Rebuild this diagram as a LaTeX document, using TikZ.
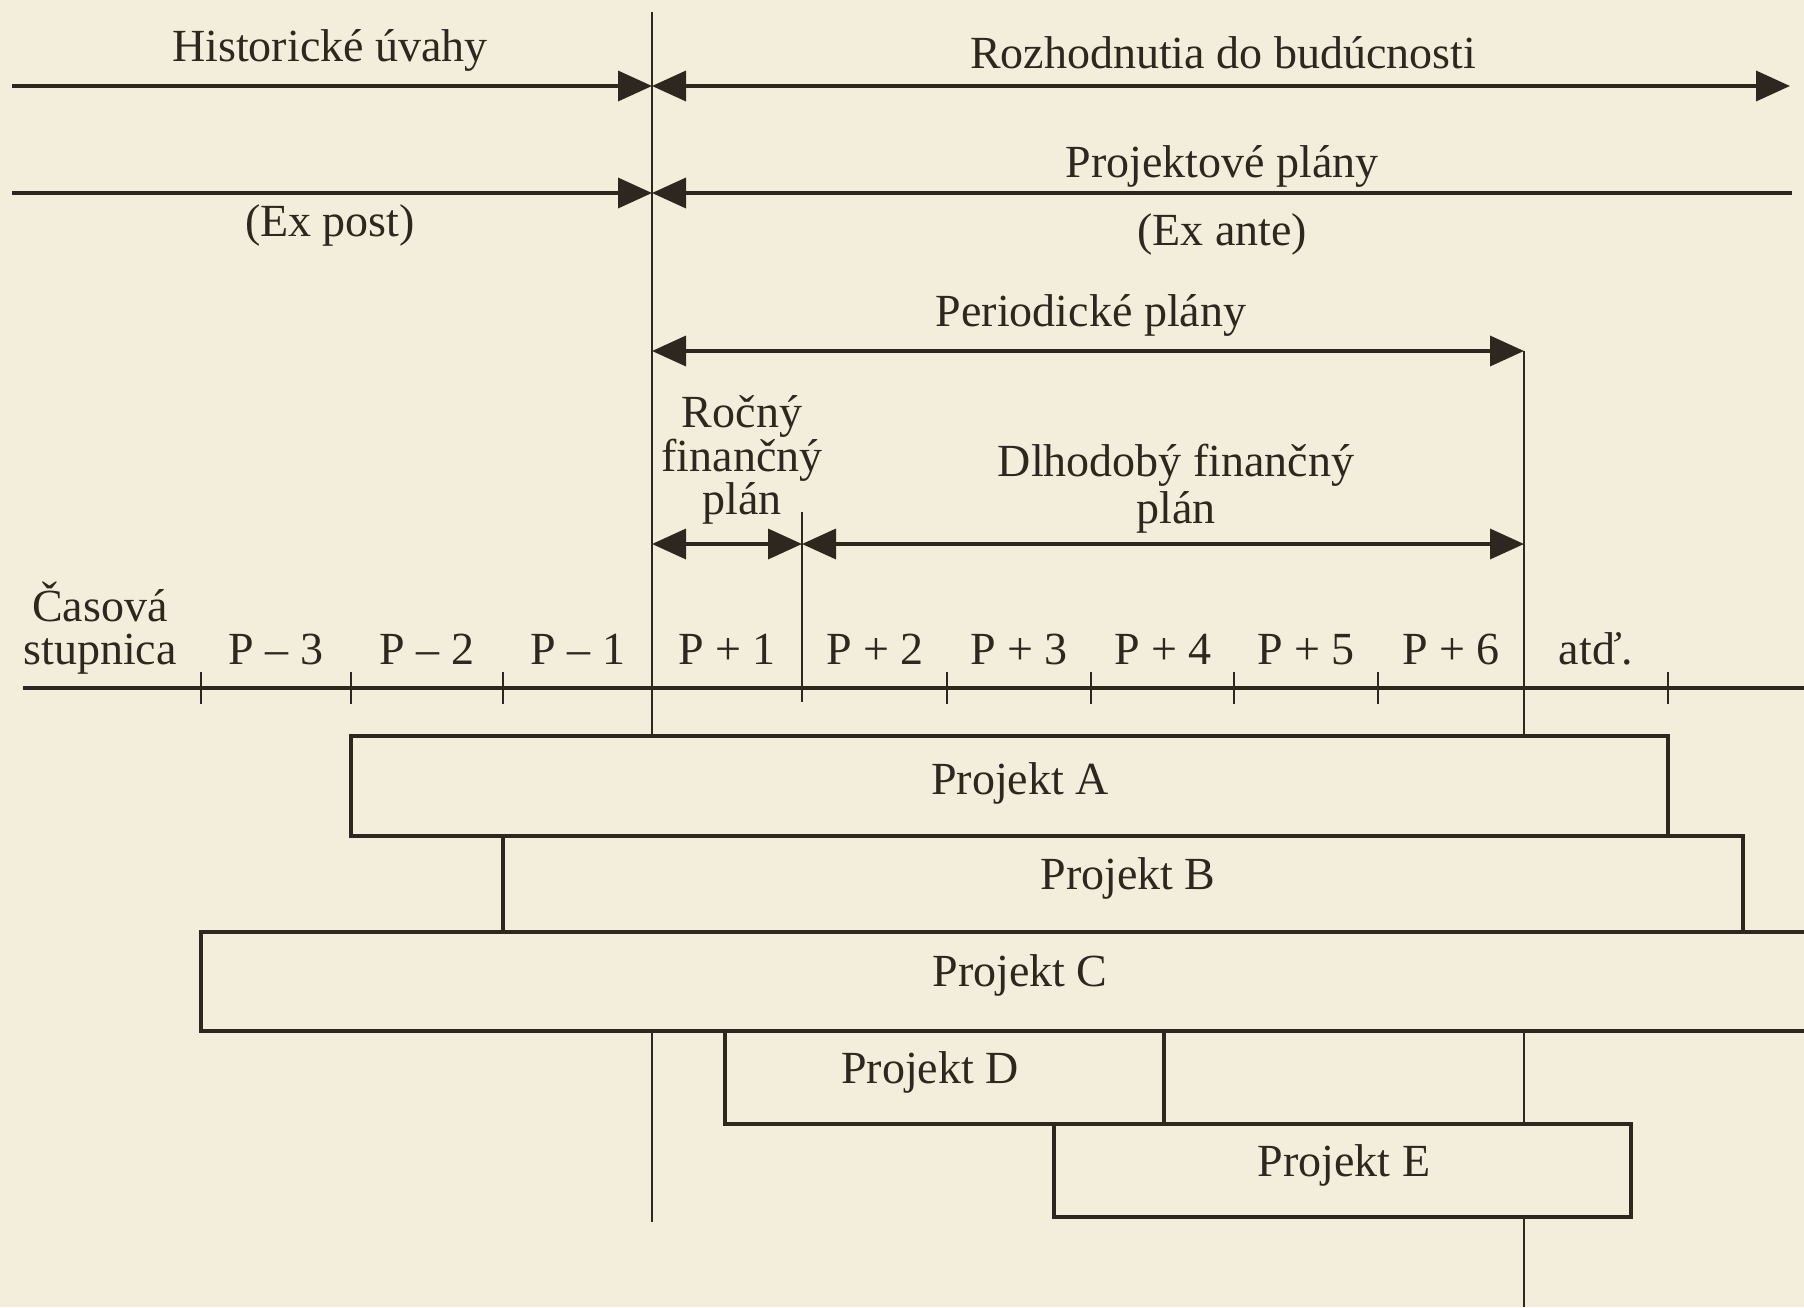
\documentclass[tikz,border=0pt]{standalone}
\usepackage{fontspec}
\setmainfont{Liberation Serif}
\usetikzlibrary{arrows.meta,fit}
\definecolor{paper}{HTML}{F3EDDB}
\definecolor{ink}{HTML}{2E271F}
\begin{document}
\begin{tikzpicture}[x=0.5pt,y=-0.5pt,
  every node/.style={text=ink, inner sep=0pt},
  txt/.style={font=\fontsize{23}{22}\selectfont, anchor=base},
  hl/.style={draw=ink, line width=1.8pt},
  vl/.style={draw=ink, line width=1pt},
  tk/.style={draw=ink, line width=0.9pt},
  arw/.style={-{Triangle[length=17pt,width=15pt]}},
  larw/.style={{Triangle[length=17pt,width=15pt]}-},
  darw/.style={{Triangle[length=17pt,width=15pt]}-{Triangle[length=17pt,width=15pt]}},
  proj/.style={draw=ink, fill=paper, line width=1.6pt, inner sep=0pt, rectangle},
]
\fill[paper] (0,0) rectangle (1804,1307);
\useasboundingbox (0,0) rectangle (1804,1307);

% named coordinates
\coordinate (v1t) at (652,12);
\coordinate (v1b) at (652,1222);
\coordinate (v2t) at (1524,351);
\coordinate (v2b) at (1524,1307);
\coordinate (v3t) at (802,512);
\coordinate (v3b) at (802,702);
\coordinate (r1l) at (12,86);
\coordinate (r1m) at (652,86);
\coordinate (r1r) at (1790,86);
\coordinate (r2l) at (12,193);
\coordinate (r2m) at (652,193);
\coordinate (r2r) at (1792,193);
\coordinate (pl) at (652,351);
\coordinate (pr) at (1524,351);
\coordinate (fl) at (652,544);
\coordinate (fm) at (802,544);
\coordinate (fr) at (1524,544);
\coordinate (axl) at (23,688);
\coordinate (axr) at (1804,688);

% vertical lines
\draw[vl] (v1t) -- (v1b);
\draw[vl] (v2t) -- (v2b);
\draw[vl] (v3t) -- (v3b);

% time axis with ticks
\draw[hl] (axl) -- (axr);
\foreach \t in {201,351,503,947,1091,1234,1378,1668}
  \draw[tk] (\t,672) -- (\t,704);

% arrows
\draw[hl,arw] (r1l) -- (r1m);
\draw[hl,darw] (r1m) -- (r1r);
\draw[hl,arw] (r2l) -- (r2m);
\draw[hl,larw] (r2m) -- (r2r);
\draw[hl,darw] (pl) -- (pr);
\draw[hl,darw] (fl) -- (fm);
\draw[hl,darw] (fm) -- (fr);

% top labels
\node[txt] (hist) at (330,61) {Historické úvahy};
\node[txt] (rozh) at (1223,68) {Rozhodnutia do budúcnosti};
\node[txt] (proj) at (1222,177) {Projektové plány};
\node[txt] (expost) at (330,236) {(Ex post)};
\node[txt] (exante) at (1222,245) {(Ex ante)};
\node[txt] (peri) at (1091,326) {Periodické plány};
\node[txt] (roc1) at (742,427) {Ročný};
\node[txt] (roc2) at (742,471) {finančný};
\node[txt] (roc3) at (742,514) {plán};
\node[txt] (dlh1) at (1176,476) {Dlhodobý finančný};
\node[txt] (dlh2) at (1176,523) {plán};

% time scale labels
\node[txt] (cas1) at (100,621) {Časová};
\node[txt] (cas2) at (100,664) {stupnica};
\node[txt] (pm3) at (276,664) {P – 3};
\node[txt] (pm2) at (427,664) {P – 2};
\node[txt] (pm1) at (578,664) {P – 1};
\node[txt] (pp1) at (727,664) {P + 1};
\node[txt] (pp2) at (875,664) {P + 2};
\node[txt] (pp3) at (1019,664) {P + 3};
\node[txt] (pp4) at (1163,664) {P + 4};
\node[txt] (pp5) at (1306,664) {P + 5};
\node[txt] (pp6) at (1451,664) {P + 6};
\node[txt] (atd) at (1596,664) {atď.};

% project boxes
\node[proj, fit={(351,736) (1668,836)}] (bA) {};
\node[proj, fit={(503,836) (1743,932)}] (bB) {};
\node[proj, fit={(201,932) (1830,1031)}] (bC) {};
\node[proj, fit={(725,1031) (1164,1124)}] (bD) {};
\node[proj, fit={(1054,1124) (1631,1217)}] (bE) {};
\node[txt] (tA) at (1020,794) {Projekt A};
\node[txt] (tB) at (1128,889) {Projekt B};
\node[txt] (tC) at (1020,986) {Projekt C};
\node[txt] (tD) at (930,1083) {Projekt D};
\node[txt] (tE) at (1344,1176) {Projekt E};
\end{tikzpicture}
\end{document}
